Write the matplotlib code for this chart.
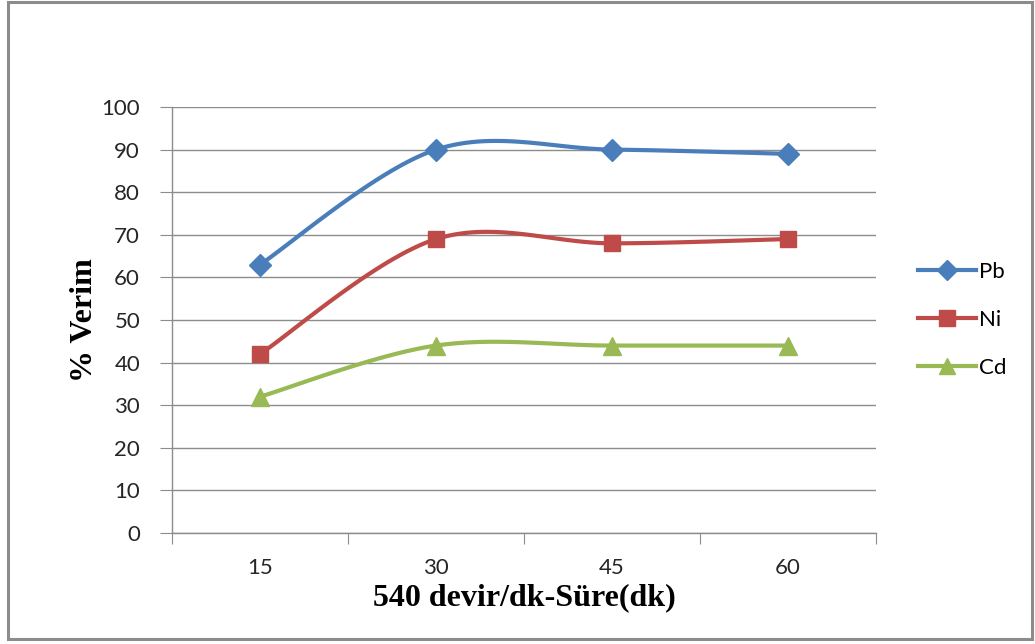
import matplotlib
matplotlib.use("Agg")
from matplotlib import pyplot as plt
import matplotlib.patches as mpatches
from matplotlib.lines import Line2D
import numpy as np

# data
times = ["15", "30", "45", "60"]
pb = [63, 90, 90, 89]
ni = [42, 69, 68, 69]
cd = [32, 44, 44, 44]

series = [
    ("Pb", pb, "#4A7EBB", "D", 11),
    ("Ni", ni, "#BE4B48", "s", 12),
    ("Cd", cd, "#98B954", "^", 13),
]

def smooth(x, y, n=40):
    # Excel-like smoothed line: cubic bezier through the points (Catmull-Rom style)
    pts = np.column_stack([x, y]).astype(float)
    ext = np.vstack([pts[0], pts, pts[-1]])
    out = []
    t = np.linspace(0, 1, n)[:, None]
    for i in range(len(pts) - 1):
        p0, p1, p2, p3 = ext[i], ext[i + 1], ext[i + 2], ext[i + 3]
        c1 = p1 + (p2 - p0) / 6.0
        c2 = p2 - (p3 - p1) / 6.0
        seg = ((1 - t) ** 3) * p1 + 3 * ((1 - t) ** 2) * t * c1 + 3 * (1 - t) * t ** 2 * c2 + t ** 3 * p2
        out.append(seg if i == 0 else seg[1:])
    out = np.vstack(out)
    return out[:, 0], out[:, 1]

fig = plt.figure(figsize=(10.35, 6.44), dpi=100)
fig.patches.append(mpatches.Rectangle((8 / 1035, 5 / 644), 1024 / 1035, 637 / 644,
                                      transform=fig.transFigure, fill=False,
                                      edgecolor="#8c8c8c", linewidth=2.2))

ax = fig.add_axes([172 / 1035, 111 / 644, 704 / 1035, 426 / 644])
xs = np.arange(len(times))

handles = []
for name, vals, color, marker, ms in series:
    sx, sy = smooth(xs, vals)
    ax.plot(sx, sy, color=color, linewidth=3.0, solid_capstyle="round", zorder=3)
    ax.plot(xs, vals, linestyle="none", marker=marker, markersize=ms, color=color,
            markeredgecolor=color, zorder=4)
    handles.append(Line2D([], [], color=color, linewidth=3.0, marker=marker,
                          markersize=ms - 1, markeredgecolor=color, label=name))

ax.set_xlim(-0.5, len(times) - 0.5)
ax.set_ylim(0, 100)
ax.set_yticks(np.arange(0, 101, 10))
ax.yaxis.grid(True, color="#8c8c8c", linewidth=1.0)
ax.set_axisbelow(True)

ax.set_xticks(np.arange(-0.5, len(times), 1.0))
ax.set_xticklabels([])
ax.set_xticks(xs, minor=True)
ax.set_xticklabels(times, minor=True)
ax.tick_params(axis="x", which="major", length=8, color="#8c8c8c", direction="out")
ax.tick_params(axis="x", which="minor", length=0, pad=18)
ax.tick_params(axis="y", length=9, color="#8c8c8c", direction="out", pad=14)

for lab in ax.get_xticklabels(minor=True) + ax.get_yticklabels():
    lab.set_fontfamily("Lato")
    lab.set_fontsize(16)
    lab.set_color("#262626")

for side in ["top", "right"]:
    ax.spines[side].set_visible(False)
for side in ["left", "bottom"]:
    ax.spines[side].set_color("#8c8c8c")
    ax.spines[side].set_linewidth(1.0)

ax.set_xlabel("540 devir/dk-Süre(dk)", fontfamily="Liberation Serif",
              fontweight="bold", fontsize=23, labelpad=4)
ax.set_ylabel("% Verim", fontfamily="Liberation Serif", fontweight="bold",
              fontsize=23, labelpad=2)

leg = ax.legend(handles=handles, loc="center left", bbox_to_anchor=(1.06, 0.50),
                frameon=False, prop={"family": "Lato", "size": 16},
                borderpad=0, borderaxespad=0,
                handlelength=2.6, handletextpad=0.15, labelspacing=1.25)

plt.savefig("out.png", dpi=100)
